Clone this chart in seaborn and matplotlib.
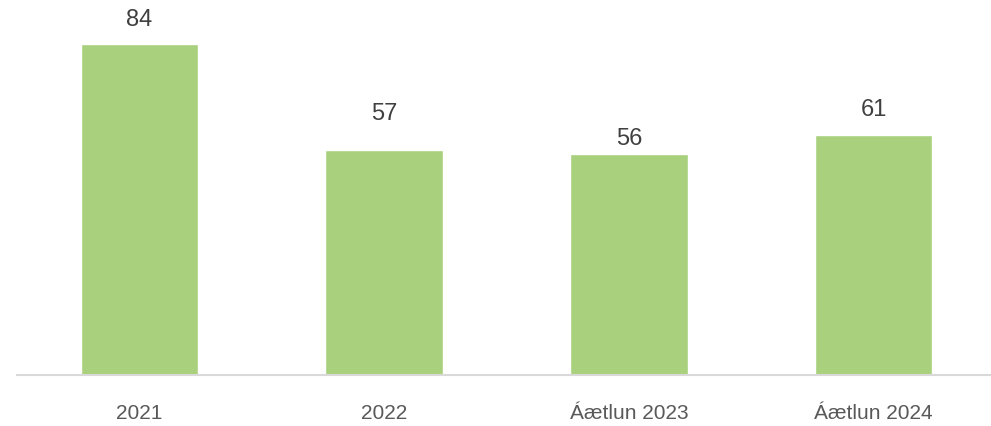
import matplotlib
matplotlib.use("Agg")
import matplotlib.pyplot as plt
import seaborn as sns
import pandas as pd

# data
categories = ["2021", "2022", "Áætlun 2023", "Áætlun 2024"]
values = [84, 57, 56, 61]

# label gap above each bar (px), placed by hand in the original
label_gap = [24, 36, 15, 25]

df = pd.DataFrame({"cat": categories, "val": values})

sns.set_style("white")
plt.rcParams["font.family"] = ["Liberation Sans", "DejaVu Sans"]

fig = plt.figure(figsize=(9.91, 4.26), dpi=100)
ax = fig.add_axes([17 / 991, 1 - 375 / 426, (996 - 17) / 991, 375 / 426])

sns.barplot(data=df, x="cat", y="val", color="#A9D07D", width=0.48,
            saturation=1, ax=ax)

for i, v in enumerate(values):
    ax.annotate(str(v), (i, v), xytext=(0, label_gap[i] * 0.72),
                textcoords="offset points",
                ha="center", va="center", fontsize=17, color="#404040")

ax.set_ylim(0, 95.2)
ax.set_xlim(-0.5, 3.5)
ax.set_xlabel("")
ax.set_ylabel("")
ax.set_yticks([])
sns.despine(ax=ax, left=True)
ax.spines["bottom"].set_color("#d9d9d9")
ax.spines["bottom"].set_linewidth(1.5)
ax.tick_params(axis="x", length=0, pad=21, labelsize=15, labelcolor="#595959")
ax.patch.set_alpha(0)

fig.savefig("out.png", dpi=100)
